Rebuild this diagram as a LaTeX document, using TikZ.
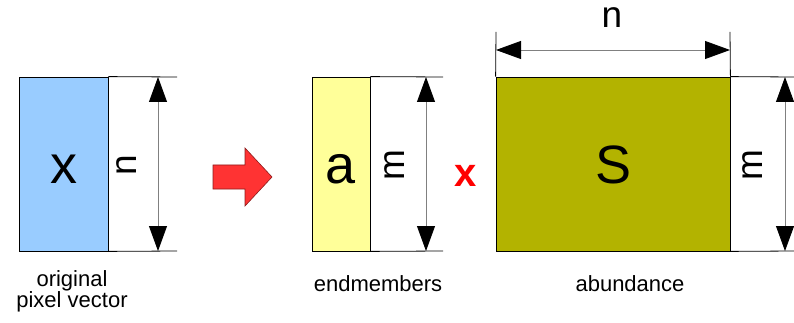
\documentclass[tikz,border=0pt]{standalone}
\usepackage{fontspec}
\setmainfont{Liberation Sans}
\usetikzlibrary{arrows.meta, positioning}
\definecolor{pixelblue}{RGB}{153,204,255}
\definecolor{memberyellow}{RGB}{255,255,153}
\definecolor{abundolive}{RGB}{179,179,0}
\definecolor{arrowred}{RGB}{255,51,51}

\begin{document}
\begin{tikzpicture}[x=1pt, y=-1pt,
  >={Triangle[length=25pt,width=18pt,color=black]},
  block/.style={draw, line width=0.8pt, inner sep=0pt, minimum height=174pt,
                text height=39pt, text depth=0pt, font=\fontsize{54}{54}\selectfont},
  dimline/.style={<->, draw=gray, line width=0.8pt},
  extline/.style={draw, line width=0.8pt},
  dimlabel/.style={font=\fontsize{37}{37}\selectfont, inner sep=0pt},
  caption/.style={font=\fontsize{22}{21}\selectfont, align=center, inner sep=0pt},
]
\useasboundingbox (0,0) rectangle (794,323);

% Matrices
\node[block, fill=pixelblue, minimum width=89pt] (xvec) at (63.5,164) {x};
\node[block, fill=memberyellow, minimum width=58pt] (avec) at (341,164) {a};
\node[block, fill=abundolive, minimum width=234pt] (smat) at (613,164) {S};

% Dimension end points
\coordinate (xext1) at (177,77);
\coordinate (xext2) at (177,251);
\coordinate (xdim1) at (158,77);
\coordinate (xdim2) at (158,251);
\coordinate (aext1) at (443,77);
\coordinate (aext2) at (443,251);
\coordinate (adim1) at (426,77);
\coordinate (adim2) at (426,251);
\coordinate (sext1) at (794,77);
\coordinate (sext2) at (794,251);
\coordinate (sdim1) at (785,77);
\coordinate (sdim2) at (785,251);
\coordinate (stop1) at (496,32);
\coordinate (stop2) at (730,32);
\coordinate (sdim3) at (496,50);
\coordinate (sdim4) at (730,50);

% Extension lines
\draw[extline] (xvec.north east) -- (xext1);
\draw[extline] (xvec.south east) -- (xext2);
\draw[extline] (avec.north east) -- (aext1);
\draw[extline] (avec.south east) -- (aext2);
\draw[extline] (smat.north east) -- (sext1);
\draw[extline] (smat.south east) -- (sext2);
\draw[extline] (smat.north west) -- (stop1);
\draw[extline] (smat.north east) -- (stop2);

% Dimension arrows
\draw[dimline] (xdim1) -- (xdim2);
\draw[dimline] (adim1) -- (adim2);
\draw[dimline] (sdim1) -- (sdim2);
\draw[dimline] (sdim3) -- (sdim4);

% Dimension labels
\node[dimlabel, rotate=90] (xn) at (127,165) {n};
\node[dimlabel, rotate=90] (am) at (395,165) {m};
\node[dimlabel, rotate=90] (sm) at (753,165) {m};
\node[dimlabel] (sn) at (612,18) {n};

% Operators
\filldraw[fill=arrowred, draw=arrowred!55!black, line width=0.6pt]
  (213,165) -- (245,165) -- (245,148) -- (272,177) -- (245,206) -- (245,189) -- (213,189) -- cycle;
\node[text=red, font=\fontsize{40}{40}\selectfont\bfseries, inner sep=0pt] (times) at (466,176) {x};

% Captions
\node[caption] (xcap) at (72,291) {original\\pixel vector};
\node[caption] (acap) at (378,284) {endmembers};
\node[caption] (scap) at (630,284) {abundance};

\end{tikzpicture}
\end{document}
